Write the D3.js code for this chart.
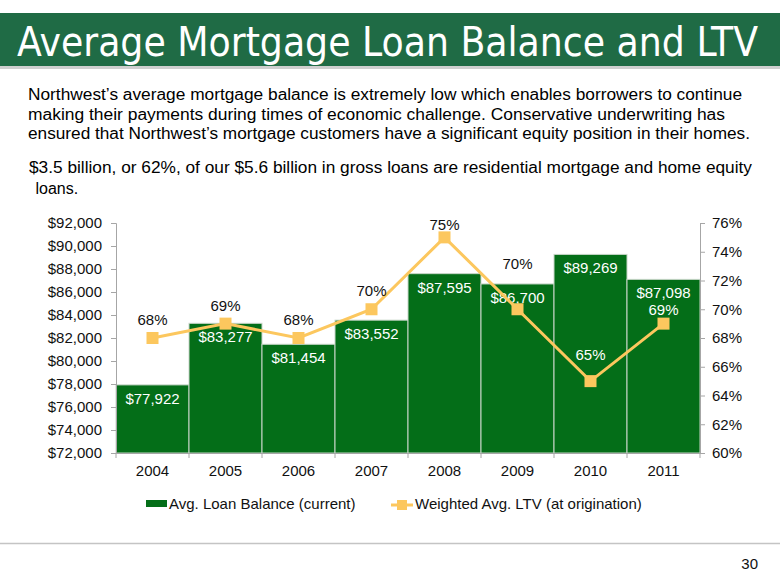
<!DOCTYPE html>
<html>
<head>
<meta charset="utf-8">
<script src="https://cdn.jsdelivr.net/npm/d3@7"></script>
<style>
  body { margin: 0; background: #fff; }
  svg { display: block; }
  text { font-family: "Liberation Sans", Arial, sans-serif; }
</style>
</head>
<body>
<script>
// ---- data ----
const years = ["2004", "2005", "2006", "2007", "2008", "2009", "2010", "2011"];
const loanBalance = [77922, 83277, 81454, 83552, 87595, 86700, 89269, 87098];
const ltv = [68, 69, 68, 70, 75, 70, 65, 69];
const leftTicks = [72000, 74000, 76000, 78000, 80000, 82000, 84000, 86000, 88000, 90000, 92000];
const rightTicks = [60, 62, 64, 66, 68, 70, 72, 74, 76];
const seriesNames = ["Avg. Loan Balance (current)", "Weighted Avg. LTV (at origination)"];
const titleText = "Average Mortgage Loan Balance and LTV";
const bodyLines = [
  "Northwest\u2019s average mortgage balance is extremely low which enables borrowers to continue",
  "making their payments during times of economic challenge.  Conservative underwriting has",
  "ensured that Northwest\u2019s mortgage customers have a significant equity position in their homes."
];
const bodyLines2 = [
  "$3.5 billion, or 62%, of our $5.6 billion in gross loans are residential mortgage and home equity",
  " loans."
];
const pageNumber = "30";

// ---- styling (label offsets etc.) ----
const ltvLabelDy = [-18, -18, -18, -18, -12, -45, -26, -14];
const ltvLabelColor = ["#111", "#111", "#111", "#111", "#111", "#111", "#fff", "#fff"];

const W = 780, H = 585;
const svg = d3.select("body").append("svg").attr("width", W).attr("height", H);

// title bar
svg.append("rect").attr("x", 0).attr("y", 65).attr("width", W).attr("height", 4).attr("fill", "#cfcfcf");
svg.append("rect").attr("x", 0).attr("y", 13).attr("width", W).attr("height", 53).attr("fill", "#1f6b45");
svg.append("text").attr("x", 17).attr("y", 56)
  .attr("font-family", "'DejaVu Sans Condensed', 'DejaVu Sans', sans-serif")
  .style("font-family", "'DejaVu Sans Condensed', 'DejaVu Sans', sans-serif")
  .attr("font-size", 40).attr("fill", "#fff")
  .attr("textLength", 741).attr("lengthAdjust", "spacingAndGlyphs")
  .text(titleText);

// body text
const bodyY = [100, 120, 139];
const bodyW = [714, 697, 722];
bodyLines.forEach((t, i) => {
  svg.append("text").attr("x", 28).attr("y", bodyY[i]).attr("font-size", 16).attr("fill", "#000")
    .attr("textLength", bodyW[i]).attr("lengthAdjust", "spacingAndGlyphs").text(t);
});
svg.append("text").attr("x", 29).attr("y", 173).attr("font-size", 16).attr("fill", "#000")
  .attr("textLength", 723).attr("lengthAdjust", "spacingAndGlyphs").text(bodyLines2[0]);
svg.append("text").attr("x", 31).attr("y", 194).attr("font-size", 16).attr("fill", "#000")
  .attr("xml:space", "preserve").style("white-space", "pre").text(bodyLines2[1]);

// chart
const plot = { left: 116, right: 700, top: 223, bottom: 453 };
const x = d3.scaleBand().domain(years).range([plot.left, plot.right]).padding(0);
const yL = d3.scaleLinear().domain([72000, 92000]).range([plot.bottom, plot.top]);
const yR = d3.scaleLinear().domain([60, 76]).range([plot.bottom, plot.top]);

const axisColor = "#a6a6a6";

// bars
svg.append("g").selectAll("rect").data(years).join("rect")
  .attr("x", d => x(d))
  .attr("y", (d, i) => yL(loanBalance[i]))
  .attr("width", x.bandwidth())
  .attr("height", (d, i) => plot.bottom - yL(loanBalance[i]))
  .attr("fill", "#046e18")
  .attr("stroke", "#c9d6c9").attr("stroke-width", 1);

// left axis
const gL = svg.append("g").attr("transform", `translate(${plot.left},0)`)
  .call(d3.axisLeft(yL).tickValues(leftTicks).tickSize(5).tickPadding(9)
    .tickFormat(d => "$" + d3.format(",")(d)));
gL.select(".domain").attr("stroke", axisColor);
gL.selectAll(".tick line").attr("stroke", axisColor);
gL.selectAll(".tick text").attr("font-size", 15).attr("fill", "#111")
  .style("font-family", "'Liberation Sans', Arial, sans-serif");

// right axis
const gR = svg.append("g").attr("transform", `translate(${plot.right},0)`)
  .call(d3.axisRight(yR).tickValues(rightTicks).tickSize(5).tickPadding(7)
    .tickFormat(d => d + "%"));
gR.select(".domain").attr("stroke", axisColor);
gR.selectAll(".tick line").attr("stroke", axisColor);
gR.selectAll(".tick text").attr("font-size", 15).attr("fill", "#111")
  .style("font-family", "'Liberation Sans', Arial, sans-serif");

// bottom axis
const gB = svg.append("g").attr("transform", `translate(0,${plot.bottom})`)
  .call(d3.axisBottom(x).tickSize(0).tickPadding(12));
gB.select(".domain").attr("stroke", axisColor);
gB.selectAll(".tick text").attr("font-size", 15).attr("fill", "#111")
  .style("font-family", "'Liberation Sans', Arial, sans-serif");
// tick marks at band boundaries
const bounds = years.map(d => x(d)).concat([x(years[years.length - 1]) + x.bandwidth()]);
svg.append("g").selectAll("line").data(bounds).join("line")
  .attr("x1", d => d).attr("x2", d => d)
  .attr("y1", plot.bottom).attr("y2", plot.bottom + 5)
  .attr("stroke", axisColor);

// bar labels
svg.append("g").selectAll("text").data(years).join("text")
  .attr("x", d => x(d) + x.bandwidth() / 2)
  .attr("y", (d, i) => yL(loanBalance[i]) + 19)
  .attr("text-anchor", "middle").attr("font-size", 15).attr("fill", "#fff")
  .text((d, i) => "$" + d3.format(",")(loanBalance[i]));

// LTV line
const cx = d => x(d) + x.bandwidth() / 2;
svg.append("path")
  .datum(years)
  .attr("fill", "none").attr("stroke", "#fcc75e").attr("stroke-width", 3)
  .attr("d", d3.line().x(d => cx(d)).y((d, i) => yR(ltv[i])));
svg.append("g").selectAll("rect").data(years).join("rect")
  .attr("x", d => cx(d) - 6).attr("y", (d, i) => yR(ltv[i]) - 6)
  .attr("width", 12).attr("height", 12).attr("fill", "#fcc75e");

// LTV labels
svg.append("g").selectAll("text").data(years).join("text")
  .attr("x", d => cx(d))
  .attr("y", (d, i) => yR(ltv[i]) + ltvLabelDy[i] + 5)
  .attr("text-anchor", "middle").attr("font-size", 15)
  .attr("fill", (d, i) => ltvLabelColor[i])
  .text((d, i) => ltv[i] + "%");

// legend
svg.append("rect").attr("x", 146).attr("y", 500).attr("width", 21).attr("height", 7).attr("fill", "#046e18");
svg.append("text").attr("x", 169).attr("y", 509).attr("font-size", 15).attr("fill", "#111").text(seriesNames[0]);
svg.append("line").attr("x1", 391).attr("x2", 413).attr("y1", 505).attr("y2", 505)
  .attr("stroke", "#fcc75e").attr("stroke-width", 3);
svg.append("rect").attr("x", 397).attr("y", 500).attr("width", 10).attr("height", 10).attr("fill", "#fcc75e");
svg.append("text").attr("x", 415).attr("y", 509).attr("font-size", 15).attr("fill", "#111").text(seriesNames[1]);

// footer
svg.append("line").attr("x1", 0).attr("x2", W).attr("y1", 543.5).attr("y2", 543.5)
  .attr("stroke", "#c4c4c4").attr("stroke-width", 1.5);
svg.append("text").attr("x", 758).attr("y", 569).attr("text-anchor", "end")
  .attr("font-size", 15).attr("fill", "#111").text(pageNumber);
</script>
</body>
</html>
